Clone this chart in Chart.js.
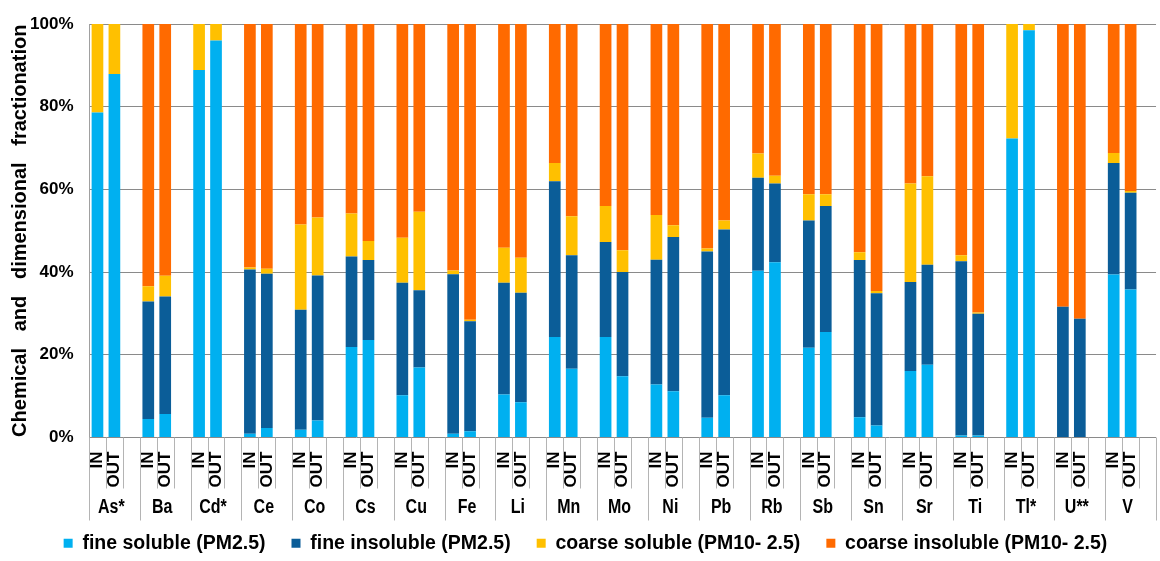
<!DOCTYPE html>
<html>
<head>
<meta charset="utf-8">
<script src="https://cdn.jsdelivr.net/npm/chart.js"></script>
<style>
  html, body { margin: 0; padding: 0; background: #fff; width: 1160px; height: 561px; overflow: hidden; }
  canvas { display: block; }
</style>
</head>
<body>
<canvas id="fraction" width="1174" height="563"></canvas>
<script>
// elements and sampling sites
const elements = ['As*', 'Ba', 'Cd*', 'Ce', 'Co', 'Cs', 'Cu', 'Fe', 'Li', 'Mn', 'Mo',
                  'Ni', 'Pb', 'Rb', 'Sb', 'Sn', 'Sr', 'Ti', 'Tl*', 'U**', 'V'];
const sites = ['IN', 'OUT'];

// % of each fraction (IN / OUT)
const fineSolubleIn    = [78.6, 4.5, 88.9, 0.9, 1.9, 21.9, 10.2, 0.9, 10.4, 24.3, 24.3, 12.8, 4.8, 40.3, 21.7, 4.9, 16.1, 0.5, 72.3, 0, 39.4];
const fineSolubleOut   = [87.9, 5.7, 96.0, 2.3, 4.1, 23.6, 16.9, 1.5, 8.5, 16.6, 14.8, 11.2, 10.2, 42.4, 25.5, 2.9, 17.6, 0.5, 98.5, 0, 35.8];
const fineInsolIn      = [0, 28.4, 0, 39.7, 29.0, 21.9, 27.2, 38.6, 27.0, 37.7, 23.0, 30.2, 40.2, 22.5, 30.8, 38.0, 21.5, 42.1, 0, 31.6, 27.0];
const fineInsolOut     = [0, 28.4, 0, 37.3, 35.1, 19.3, 18.7, 26.6, 26.5, 27.5, 25.2, 37.3, 40.1, 19.0, 30.5, 32.0, 24.2, 29.4, 0, 28.7, 23.4];
const coarseSolubleIn  = [21.4, 3.7, 11.1, 0.5, 20.6, 10.4, 10.9, 0.9, 8.5, 4.4, 8.7, 10.8, 0.7, 5.9, 6.3, 1.9, 23.8, 1.5, 27.7, 0, 2.4];
const coarseSolubleOut = [12.1, 5.0, 4.0, 1.2, 14.0, 4.6, 19.0, 0.4, 8.5, 9.4, 5.3, 2.8, 2.2, 1.9, 2.8, 0.5, 21.4, 0.3, 1.5, 0, 0.4];
const coarseInsolIn    = [0, 63.4, 0, 58.9, 48.5, 45.8, 51.7, 59.6, 54.1, 33.6, 44.0, 46.2, 54.3, 31.3, 41.2, 55.2, 38.6, 55.9, 0, 68.4, 31.2];
const coarseInsolOut   = [0, 60.9, 0, 59.2, 46.8, 52.5, 45.4, 71.5, 56.5, 46.5, 54.7, 48.7, 47.5, 36.7, 41.2, 64.6, 36.8, 69.8, 0, 71.3, 40.4];

const seriesNames  = ['fine soluble (PM2.5)', 'fine insoluble (PM2.5)', 'coarse soluble (PM10- 2.5)', 'coarse insoluble (PM10- 2.5)'];
const seriesColors = ['#00b0f0', '#0b5d98', '#ffc000', '#ff6a00'];

const SANS = '"Liberation Sans", Arial, sans-serif';

// IN, OUT and an empty slot per element (like the excel sheet)
const categories = [];
elements.forEach(() => { categories.push(sites[0], sites[1], ''); });

function spread(inVals, outVals) {
  const out = [];
  elements.forEach((el, i) => { out.push(inVals[i], outVals[i], null); });
  return out;
}

const seriesData = [
  spread(fineSolubleIn, fineSolubleOut),
  spread(fineInsolIn, fineInsolOut),
  spread(coarseSolubleIn, coarseSolubleOut),
  spread(coarseInsolIn, coarseInsolOut)
];

// second row of the category axis: separators + element names
const groupAxis = {
  id: 'groupAxis',
  afterDraw(chart) {
    const { ctx, chartArea, scales: { x } } = chart;
    const w = x.getPixelForValue(1) - x.getPixelForValue(0);
    const y0 = chartArea.bottom;
    ctx.save();
    ctx.strokeStyle = '#b4b4b4';
    ctx.lineWidth = 1;
    for (let i = 0; i <= categories.length; i++) {
      const px = Math.round(x.getPixelForValue(i) - w / 2) + 0.5;
      const len = i % 3 === 0 ? 83 : 51;
      ctx.beginPath();
      ctx.moveTo(px, y0);
      ctx.lineTo(px, y0 + len);
      ctx.stroke();
    }
    ctx.fillStyle = '#000';
    ctx.font = 'bold 20px ' + SANS;
    ctx.textAlign = 'center';
    ctx.textBaseline = 'middle';
    elements.forEach((el, g) => {
      const cx = x.getPixelForValue(g * 3 + 1) - 3;
      // squeeze horizontally, the original uses a narrow face
      ctx.save();
      ctx.translate(cx, y0 + 70);
      ctx.scale(0.8, 1);
      ctx.fillText(el, 0, 0);
      ctx.restore();
    });
    ctx.restore();
  }
};

new Chart(document.getElementById('fraction'), {
  type: 'bar',
  data: {
    labels: categories,
    datasets: seriesNames.map((name, k) => ({
      label: name,
      data: seriesData[k],
      backgroundColor: seriesColors[k],
      borderWidth: 0,
      barPercentage: 0.69,
      categoryPercentage: 1
    }))
  },
  options: {
    responsive: false,
    animation: false,
    layout: { padding: { top: 12, right: 3, left: 0, bottom: 0 } },
    plugins: {
      tooltip: { enabled: false },
      legend: {
        position: 'bottom',
        labels: {
          boxWidth: 9,
          boxHeight: 9,
          padding: 26,
          color: '#000',
          font: { family: SANS, size: 19.5, weight: 'bold' }
        }
      }
    },
    scales: {
      x: {
        stacked: true,
        grid: { display: false },
        border: { display: false },
        ticks: {
          autoSkip: false,
          maxRotation: 90,
          minRotation: 90,
          padding: 6,
          color: '#000',
          font: { family: SANS, size: 17, weight: 'bold' }
        },
        afterFit(scale) { scale.height = 70; }
      },
      y: {
        stacked: true,
        min: 0,
        max: 100,
        grid: { color: '#8a8a8a', drawTicks: false },
        border: { color: '#a0a0a0' },
        ticks: {
          stepSize: 20,
          padding: 15.5,
          color: '#000',
          font: { family: SANS, size: 17, weight: 'bold', lineHeight: 1 },
          callback: v => v + '%'
        },
        title: {
          display: true,
          text: 'Chemical   and   dimensional   fractionation',
          color: '#000',
          font: { family: SANS, size: 20, weight: 'bold' },
          padding: { top: 8, bottom: 0 }
        },
        afterFit(scale) { scale.width = 89; }
      }
    }
  },
  plugins: [groupAxis]
});
</script>
</body>
</html>
